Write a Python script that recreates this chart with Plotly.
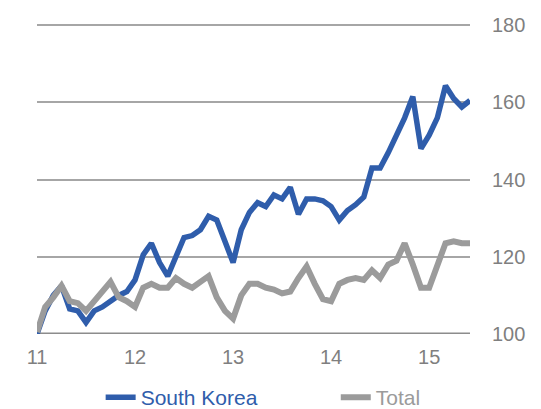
import plotly.graph_objects as go

tick_labels = ["11", "12", "13", "14", "15"]
tick_months = [0, 12, 24, 36, 48]
months = list(range(54))

south_korea = [100, 106, 110, 112.5, 106.5, 106, 103, 106, 107, 108.5,
               110, 111, 114, 120.5, 123.5, 118.5, 115, 120, 125, 125.5,
               127, 130.5, 129.5, 124, 118.5, 127, 131.5, 134, 133, 136,
               135, 138, 131, 135, 135, 134.5, 133, 129.5, 132, 133.5,
               135.5, 143, 143, 147, 151.5, 156, 161.5, 148, 151.5, 156,
               164.3, 161, 158.8, 160.5]

total = [100.5, 107, 109.5, 112.5, 108.5, 108, 106, 108.5, 110.5, 113.5,
         109.5, 108.5, 107, 112, 113, 112, 112, 114.5, 113, 112,
         113.5, 115, 109.5, 106, 104, 110, 113, 113, 112, 111.5,
         110.5, 111, 114.5, 117.5, 113, 109, 108.5, 113, 114, 114.5,
         114, 116.5, 114.5, 118, 119, 123.5, 118, 112, 112, 118,
         123.5, 124, 123.5, 123.5]

BLUE = "#2F5DAB"
GRAY = "#9B9B9B"

fig = go.Figure()
fig.add_trace(go.Scatter(
    x=months, y=south_korea, mode="lines",
    name=f"<span style='color:{BLUE}'>South Korea</span>",
    line=dict(color=BLUE, width=5.5), legend="legend"))
fig.add_trace(go.Scatter(
    x=months, y=total, mode="lines",
    name=f"<span style='color:{GRAY}'>Total</span>",
    line=dict(color=GRAY, width=6), legend="legend2"))

leg_common = dict(orientation="h", xanchor="left", y=-0.205, yanchor="middle",
                  font=dict(size=21), bgcolor="rgba(0,0,0,0)", itemwidth=30)

fig.update_layout(
    width=541, height=409,
    margin=dict(l=37, r=71, t=24, b=75, autoexpand=False),
    paper_bgcolor="white", plot_bgcolor="white",
    font=dict(family="Liberation Sans, Arial, sans-serif", size=20, color="#7F7F7F"),
    showlegend=True,
    legend=dict(x=0.147, **leg_common),
    legend2=dict(x=0.69, **leg_common),
    xaxis=dict(range=[0, 53], tickvals=tick_months, ticktext=tick_labels,
               showgrid=False, zeroline=False, showline=False, ticks="",
               automargin=False, ticklabelstandoff=9,
               tickfont=dict(size=20, color="#7F7F7F")),
    yaxis=dict(range=[100, 180.3], side="right", dtick=20,
               showgrid=True, gridcolor="#A6A6A6", gridwidth=1.5,
               zeroline=False, showline=False, ticks="", automargin=False,
               ticklabelstandoff=21,
               tickfont=dict(size=20, color="#7F7F7F")),
)
fig.add_hline(y=100, line=dict(color="#8C8C8C", width=3), layer="below")

fig.write_html("out.html")
